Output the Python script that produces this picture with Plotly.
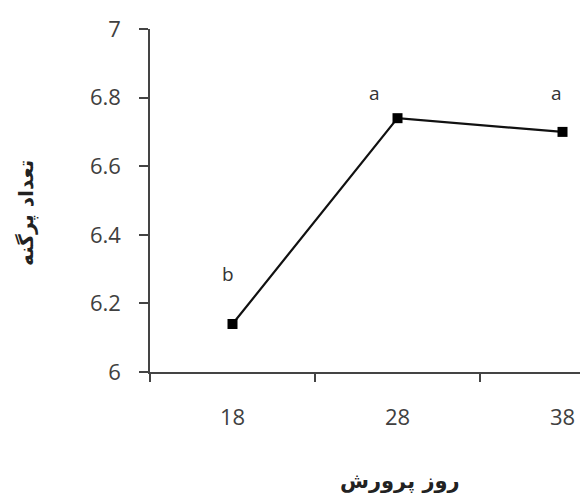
import plotly.graph_objects as go

days = ["18", "28", "38"]
colony_count = [6.14, 6.74, 6.70]
letters = ["b", "a", "a"]
letter_shift_x = [-5, -23, -6]
letter_shift_y = [50, 25, 39]
y_ticks = [6, 6.2, 6.4, 6.6, 6.8, 7]
y_tick_text = ["6", "6.2", "6.4", "6.6", "6.8", "7"]
x_title = "روز پرورش"
y_title = "تعداد پرگنه"

W, H = 580, 495
ML, MR, MT, MB = 150, 0, 29, 123

fig = go.Figure()
fig.add_trace(go.Scatter(
    x=days, y=colony_count, mode="lines+markers",
    line=dict(color="#111111", width=2.2),
    marker=dict(symbol="square", size=10, color="#000000"),
    showlegend=False, cliponaxis=False,
))

for i, (v, t, sx, sy) in enumerate(zip(colony_count, letters, letter_shift_x, letter_shift_y)):
    fig.add_annotation(x=i, y=v, text=t, showarrow=False, xshift=sx, yshift=sy,
                       font=dict(family="Open Sans", size=19, color="#333333"))

fig.add_annotation(xref="paper", yref="paper",
                   x=(400 - ML) / (W - ML - MR), y=-(481 - (H - MB)) / (H - MT - MB),
                   text="<b>" + x_title + "</b>", showarrow=False, xanchor="center", yanchor="middle",
                   font=dict(family="DejaVu Sans", size=21, color="#222222"))
fig.add_annotation(xref="paper", yref="paper",
                   x=-(ML - 26) / (W - ML - MR), y=1 - (213 - MT) / (H - MT - MB),
                   text="<b>" + y_title + "</b>", showarrow=False, textangle=-90,
                   xanchor="center", yanchor="middle",
                   font=dict(family="DejaVu Sans", size=20, color="#222222"))

fig.update_layout(
    width=W, height=H,
    margin=dict(l=ML, r=MR, t=MT, b=MB),
    paper_bgcolor="white", plot_bgcolor="white",
    xaxis=dict(type="category", range=[-0.5, 2.106], tickson="boundaries",
               ticks="outside", ticklen=8, tickwidth=1.5, tickcolor="#444444",
               showline=True, linecolor="#444444", linewidth=1.5,
               showgrid=False, zeroline=False, ticklabelstandoff=25,
               tickfont=dict(family="Open Sans", size=22, color="#404040")),
    yaxis=dict(range=[6, 7], tickvals=y_ticks, ticktext=y_tick_text,
               ticks="outside", ticklen=9, tickwidth=1.5, tickcolor="#444444",
               showline=True, linecolor="#444444", linewidth=1.5,
               showgrid=False, zeroline=False, ticklabelstandoff=14,
               tickfont=dict(family="Open Sans", size=22, color="#404040")),
)

fig.write_html("out.html", config={"displayModeBar": False},
               post_script="document.body.style.margin='0';")
